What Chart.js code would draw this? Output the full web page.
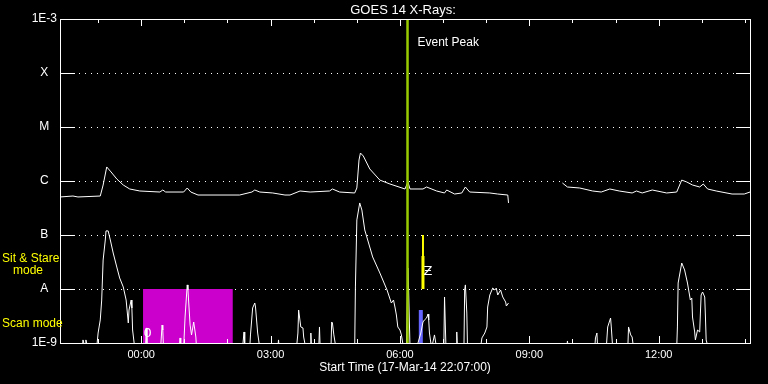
<!DOCTYPE html>
<html>
<head>
    <title>GOES 14 X-Rays</title>
    <script src="https://cdn.jsdelivr.net/npm/chart.js@4"></script>
    <style>
        body { margin: 0; background: #000; }
        canvas { display: block; background: #000; }
    </style>
</head>
<body>
    <canvas id="xrayChart" width="768" height="384"></canvas>
    <script type="text/javascript">
        // times are minutes after the start time, 17-Mar-14 22:07:00
        var tickMinutes = [113, 293, 473, 653, 833];
        var tickLabels = ['00:00', '03:00', '06:00', '09:00', '12:00'];
        var hourMinutes = [53, 113, 173, 233, 293, 353, 413, 473, 533, 593, 653, 713, 773, 833, 893, 953];

        var levelValues = [1e-9, 1e-8, 1e-7, 1e-6, 1e-5, 1e-4, 1e-3];
        var levelLabels = ['1E-9', 'A', 'B', 'C', 'M', 'X', '1E-3'];

        // long channel (1-8 A)
        var longTimes = [0, 18, 25, 56, 60, 65, 71, 79, 88, 97,
            111, 139, 143, 147, 172, 177, 182, 192, 250, 267,
            271, 278, 296, 313, 320, 334, 348, 375, 379, 389,
            410, 413, 416, 418, 422, 431, 445, 459, 480, 484,
            487, 505, 510, 524, 535, 538, 549, 559, 564, 570,
            598, 609, 623, 624, 660, 699, 706, 723, 741, 753,
            765, 778, 796, 802, 810, 824, 844, 858, 865, 872,
            880, 890, 895, 901, 913, 935, 952, 960];
        var longFlux = [5.06e-7, 5.27e-7, 5.06e-7, 5.27e-7, 8.43e-7, 1.82e-6, 1.47e-6, 1.09e-6, 8.43e-7, 7.11e-7,
            6.53e-7, 6.25e-7, 6.81e-7, 6.25e-7, 6.25e-7, 7.42e-7, 6.25e-7, 5.5e-7, 5.5e-7, 6.25e-7,
            6.81e-7, 6.25e-7, 6.0e-7, 5.5e-7, 5.5e-7, 6.53e-7, 6.25e-7, 6.53e-7, 7.11e-7, 6.25e-7,
            6.0e-7, 7.42e-7, 2.45e-6, 3.3e-6, 2.9e-6, 1.67e-6, 1.04e-6, 8.8e-7, 7.11e-7, 9.58e-7,
            7.11e-7, 7.11e-7, 7.74e-7, 6.53e-7, 6.0e-7, 6.81e-7, 5.74e-7, 6.0e-7, 7.74e-7, 6.25e-7,
            6.0e-7, 5.74e-7, 5.5e-7, 3.92e-7, null, 9.18e-7, 7.74e-7, 7.42e-7, 6.53e-7, 6.25e-7,
            7.11e-7, 6.53e-7, 6.0e-7, 6.53e-7, 6.0e-7, 6.81e-7, 6.0e-7, 6.25e-7, 1.04e-6, 9.58e-7,
            8.43e-7, 7.74e-7, 8.8e-7, 7.11e-7, 6.53e-7, 5.74e-7, 5.74e-7, 6.25e-7];

        // short channel (0.5-4 A), 8e-10 = below the bottom of the plot
        var shortTimes = [0, 31, 32, 35, 36, 39, 51, 53, 56, 58,
            60, 63, 64, 67, 70, 74, 79, 83, 88, 92,
            95, 96, 99, 100, 101, 104, 119, 120, 121, 140,
            142, 143, 144, 166, 167, 168, 172, 174, 177, 178,
            181, 183, 186, 189, 190, 254, 256, 257, 264, 265,
            268, 271, 272, 275, 278, 303, 304, 305, 329, 331,
            332, 335, 338, 339, 342, 348, 349, 350, 360, 361,
            362, 377, 378, 379, 381, 384, 410, 411, 413, 417,
            420, 424, 435, 445, 455, 461, 464, 466, 468, 470,
            473, 475, 478, 482, 484, 485, 487, 496, 502, 505,
            507, 510, 512, 513, 514, 517, 521, 524, 534, 535,
            537, 551, 552, 553, 562, 563, 564, 566, 567, 585,
            587, 591, 594, 595, 598, 602, 605, 607, 609, 613,
            616, 620, 621, 624, 640, 649, 705, 706, 707, 744,
            745, 747, 748, 760, 762, 766, 767, 769, 790, 791,
            794, 796, 798, 858, 859, 860, 865, 869, 873, 877,
            879, 880, 883, 884, 887, 890, 891, 892, 894, 897,
            898, 899, 902, 960];
        var shortFlux = [8e-10, 8e-10, 1.14e-9, 8e-10, 1.14e-9, 8e-10, 8e-10, 1.53e-9, 2.67e-9, 6.25e-9,
            3.44e-8, 8.08e-8, 1.19e-7, 1.19e-7, 8.08e-8, 4.64e-8, 2.55e-8, 1.6e-8, 1.09e-8, 6.25e-9,
            2.35e-9, 4.08e-9, 6.25e-9, 4.45e-9, 1.74e-9, 8e-10, 8e-10, 1.9e-9, 8e-10, 8e-10,
            2.15e-9, 1.74e-9, 8e-10, 8e-10, 1.24e-9, 8e-10, 8e-10, 3.03e-9, 1.19e-8, 9.58e-9,
            2.15e-9, 1.41e-9, 2.45e-9, 1.29e-9, 8e-10, 8e-10, 1.6e-9, 8e-10, 8e-10, 1.41e-9,
            4.45e-9, 5.5e-9, 4.64e-9, 1.53e-9, 8e-10, 8e-10, 1.14e-9, 8e-10, 8e-10, 1.53e-9,
            4.08e-9, 1.98e-9, 1.9e-9, 1.29e-9, 8e-10, 8e-10, 1.53e-9, 8e-10, 8e-10, 1.98e-9,
            8e-10, 8e-10, 2.45e-9, 2.35e-9, 1.41e-9, 8e-10, 8e-10, 1.09e-8, 1.9e-7, 3.92e-7,
            2.9e-7, 1.24e-7, 3.92e-8, 1.98e-8, 9.58e-9, 5.5e-9, 6.25e-9, 4.64e-9, 3.3e-9, 1.98e-9,
            1.74e-9, 1.41e-9, 8e-10, 8e-10, 2.45e-8, 9.58e-9, 8e-10, 8e-10, 1.53e-9, 2.45e-9,
            2.67e-9, 2.9e-9, 3.44e-9, 2.67e-9, 1.53e-9, 8e-10, 1.41e-9, 8e-10, 8e-10, 7.11e-9,
            8e-10, 8e-10, 1.6e-9, 8e-10, 8e-10, 9.58e-9, 1.19e-8, 3.59e-9, 8e-10, 8e-10,
            1.24e-9, 1.53e-9, 1.98e-9, 4.64e-9, 7.74e-9, 1.04e-8, 9.58e-9, 1.04e-8, 7.74e-9, 9.58e-9,
            7.11e-9, 5.74e-9, 4.84e-9, 5.5e-9, null, 8e-10, 8e-10, 1.09e-9, 8e-10, 8e-10,
            1.24e-9, 1.53e-9, 8e-10, 8e-10, 1.98e-9, 2.9e-9, 1.98e-9, 8e-10, 8e-10, 1.98e-9,
            1.41e-9, 1.29e-9, 8e-10, 8e-10, 1.98e-9, 1.29e-8, 3.03e-8, 2.25e-8, 1.29e-8, 6.25e-9,
            6.81e-9, 3.03e-9, 1.6e-9, 1.14e-9, 1.74e-9, 1.6e-9, 3.59e-9, 7.74e-9, 8.8e-9, 7.11e-9,
            3.03e-9, 1.14e-9, 8e-10, 8e-10];

        // event peak, observation periods
        var peakTime = 483.5;
        var scanStart = 115.5, scanEnd = 240.5, scanTop = 1e-8;
        var stareTime = 505, stareBottom = 1e-8, stareMid = 4.08e-8, stareTop = 1e-7;
        var scanBarTime = 502, scanBarTop = 4.08e-9;
        var markerTimes = [122, 512];
        var markerFlux = [1.5e-9, 2.06e-8];
        var markerGlyphs = ['0', '\u01B5'];

        var fontFamily = "'Liberation Sans', 'DejaVu Sans', sans-serif";

        function pairs(times, values) {
            return times.map(function(t, i) { return { x: t, y: values[i] }; });
        }

        var frame = {
            id: 'frame',
            beforeDatasetsDraw: function(chart) {
                var ctx = chart.ctx, a = chart.chartArea, ys = chart.scales.y;
                ctx.save();
                ctx.strokeStyle = '#fff';
                ctx.lineWidth = 1;
                ctx.setLineDash([1, 5]);
                levelValues.slice(1, -1).forEach(function(v) {
                    var py = Math.round(ys.getPixelForValue(v)) + 0.5;
                    ctx.beginPath();
                    ctx.moveTo(a.left + 19, py);
                    ctx.lineTo(a.right - 14, py);
                    ctx.stroke();
                });
                ctx.restore();
            },
            afterDatasetsDraw: function(chart) {
                var ctx = chart.ctx, a = chart.chartArea;
                var xs = chart.scales.x, ys = chart.scales.y;
                ctx.save();
                ctx.strokeStyle = '#fff';
                ctx.lineWidth = 1;
                ctx.strokeRect(a.left + 0.5, a.top + 0.5, a.right - a.left, a.bottom - a.top);
                ctx.beginPath();
                levelValues.slice(1, -1).forEach(function(v) {
                    var py = Math.round(ys.getPixelForValue(v)) + 0.5;
                    ctx.moveTo(a.left, py); ctx.lineTo(a.left + 15, py);
                    ctx.moveTo(a.right - 14, py); ctx.lineTo(a.right, py);
                });
                hourMinutes.forEach(function(m) {
                    var len = tickMinutes.indexOf(m) >= 0 ? 7 : 4;
                    var px = Math.round(xs.getPixelForValue(m)) + 0.5;
                    ctx.moveTo(px, a.top); ctx.lineTo(px, a.top + len);
                    ctx.moveTo(px, a.bottom); ctx.lineTo(px, a.bottom - len);
                });
                ctx.stroke();

                ctx.fillStyle = '#fff';
                ctx.textBaseline = 'middle';
                ctx.font = '13px ' + fontFamily;
                ctx.textAlign = 'center';
                ctx.fillText('GOES 14 X-Rays:', (a.left + a.right) / 2 - 2, 10);

                ctx.textAlign = 'left';
                ctx.font = '12px ' + fontFamily;
                ctx.fillText('Event Peak', xs.getPixelForValue(peakTime) + 10, ys.getPixelForValue(3.6e-4));

                ctx.font = '13px DejaVu Sans';
                ctx.textAlign = 'center';
                markerTimes.forEach(function(t, i) {
                    ctx.fillText(markerGlyphs[i], xs.getPixelForValue(t), ys.getPixelForValue(markerFlux[i]));
                });

                ctx.fillStyle = '#ffff00';
                ctx.font = '12px ' + fontFamily;
                ctx.textAlign = 'left';
                ctx.fillText('Sit & Stare', 2, 259);
                ctx.fillText('mode', 13, 271);
                ctx.fillText('Scan mode', 2, 324);
                ctx.restore();
            }
        };

        var ctx = document.getElementById('xrayChart').getContext('2d');
        var xrayChart = new Chart(ctx, {
            type: 'line',
            data: {
                datasets: [
                    {
                        label: 'Event Peak',
                        data: [{ x: peakTime, y: 1e-9 }, { x: peakTime, y: 1e-3 }],
                        borderColor: 'rgb(153, 204, 0)',
                        borderWidth: 2.5
                    },
                    {
                        label: 'Sit & Stare',
                        data: [{ x: stareTime, y: stareBottom }, { x: stareTime, y: stareTop }],
                        borderColor: '#ffff00',
                        borderWidth: 2
                    },
                    {
                        label: 'Sit & Stare (wide)',
                        data: [{ x: stareTime, y: stareBottom }, { x: stareTime, y: stareMid }],
                        borderColor: '#ffff00',
                        borderWidth: 3
                    },
                    {
                        label: 'Long',
                        data: pairs(longTimes, longFlux),
                        borderColor: '#ffffff',
                        borderWidth: 1
                    },
                    {
                        label: 'Short',
                        data: pairs(shortTimes, shortFlux),
                        borderColor: '#ffffff',
                        borderWidth: 1
                    },
                    {
                        label: 'Scan',
                        data: [{ x: scanBarTime, y: 1e-9 }, { x: scanBarTime, y: scanBarTop }],
                        borderColor: 'rgb(102, 102, 255)',
                        borderWidth: 4
                    },
                    {
                        label: 'Scan mode',
                        data: [{ x: scanStart, y: scanTop }, { x: scanEnd, y: scanTop }],
                        borderWidth: 0,
                        borderColor: 'rgba(0,0,0,0)',
                        backgroundColor: 'rgb(204, 0, 204)',
                        fill: 'start'
                    }
                ]
            },
            options: {
                responsive: false,
                animation: false,
                layout: { padding: { top: 19, right: 18, left: 0, bottom: 0 } },
                elements: {
                    point: { radius: 0 },
                    line: { tension: 0, fill: false }
                },
                plugins: {
                    legend: { display: false },
                    tooltip: { enabled: false },
                    title: { display: false }
                },
                scales: {
                    x: {
                        type: 'linear',
                        min: 0,
                        max: 960,
                        grid: { display: false, drawTicks: false },
                        border: { display: false },
                        afterBuildTicks: function(s) {
                            s.ticks = tickMinutes.map(function(v) { return { value: v }; });
                        },
                        afterFit: function(s) { s.height = 41; },
                        ticks: {
                            autoSkip: false,
                            maxRotation: 0,
                            padding: 5,
                            color: '#fff',
                            font: { family: fontFamily, size: 11 },
                            callback: function(v, i) { return tickLabels[i]; }
                        },
                        title: {
                            display: true,
                            text: 'Start Time (17-Mar-14 22:07:00)',
                            color: '#fff',
                            font: { family: fontFamily, size: 12 },
                            padding: { top: 0, bottom: 9 }
                        }
                    },
                    y: {
                        type: 'logarithmic',
                        min: 1e-9,
                        max: 1e-3,
                        grid: { display: false, drawTicks: false },
                        border: { display: false },
                        afterBuildTicks: function(s) {
                            s.ticks = levelValues.map(function(v) { return { value: v }; });
                        },
                        afterFit: function(s) { s.width = 60; },
                        ticks: {
                            crossAlign: 'center',
                            padding: 3,
                            color: '#fff',
                            font: { family: fontFamily, size: 12 },
                            callback: function(v, i) { return levelLabels[i]; }
                        }
                    }
                }
            },
            plugins: [frame]
        });
    </script>
</body>
</html>
